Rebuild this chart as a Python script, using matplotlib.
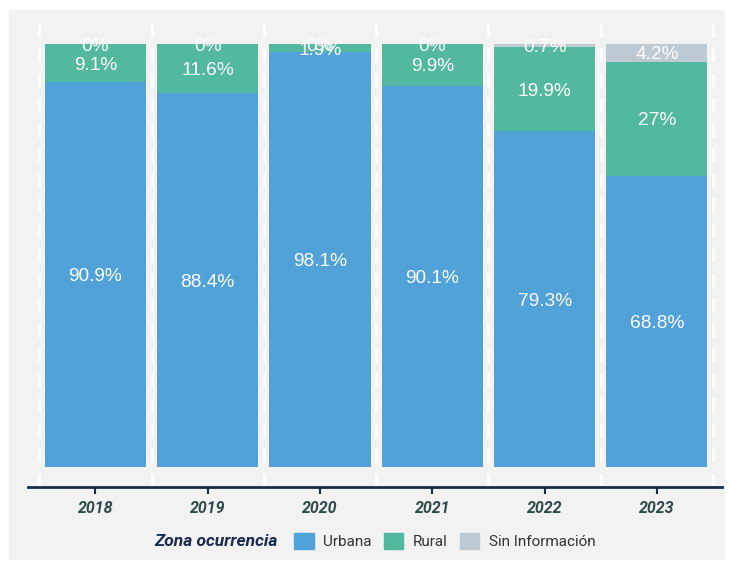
import numpy as np
import matplotlib.pyplot as plt
from matplotlib.patches import Rectangle, Patch

years = ['2018', '2019', '2020', '2021', '2022', '2023']
urbana = [90.9, 88.4, 98.1, 90.1, 79.3, 68.8]
rural = [9.1, 11.6, 1.9, 9.9, 19.9, 27]
sin_info = [0, 0, 0, 0, 0.7, 4.2]
labels_u = ['90.9%', '88.4%', '98.1%', '90.1%', '79.3%', '68.8%']
labels_r = ['9.1%', '11.6%', '1.9%', '9.9%', '19.9%', '27%']
labels_s = ['0%', '0%', '0%', '0%', '0.7%', '4.2%']

c_urb = '#52a2da'
c_rur = '#52b89e'
c_sin = '#bdcad4'
navy = '#1b2a4e'

W, H = 732, 570
fig = plt.figure(figsize=(W/100, H/100), dpi=100, facecolor='white')
fig.patches.append(Rectangle((9/W, 10/H), 716/W, 550/H, transform=fig.transFigure,
                             facecolor='#f2f2f2', edgecolor='none', zorder=-10))

ax = fig.add_axes([28/W, (H-487)/H, (722-28)/W, (487-24)/H])
ax.set_facecolor('none')

x = np.arange(len(years))
u = np.array(urbana)
r = np.array(rural)
s = np.array(sin_info)

ax.bar(x, u, width=0.9, color=c_urb, zorder=2)
ax.bar(x, r, width=0.9, bottom=u, color=c_rur, zorder=2)
ax.bar(x, s, width=0.9, bottom=u+r, color=c_sin, zorder=2)

#ラベル
fs = 13.8
dy = -0.5  # ラベルを少し下げる
for i in range(len(years)):
    ax.text(x[i], u[i]/2+dy, labels_u[i], ha='center', va='center', color='white',
            fontsize=fs, family='Liberation Sans', zorder=3)
    ax.text(x[i], u[i]+r[i]/2+dy, labels_r[i], ha='center', va='center', color='white',
            fontsize=fs, family='Liberation Sans', zorder=3)
    ax.text(x[i], u[i]+r[i]+s[i]/2+dy, labels_s[i], ha='center', va='center', color='white',
            fontsize=fs, family='Liberation Sans', zorder=3)

#区切り線
for b in np.arange(-0.5, len(years), 1.0):
    ax.axvline(b, color='white', lw=2, ls=(0, (5, 4)), zorder=1)

ax.set_xlim(-0.6, 5.58)
ax.set_ylim(-4.7, 104.7)
for sp in ['top', 'right', 'left']:
    ax.spines[sp].set_visible(False)
ax.spines['bottom'].set_color(navy)
ax.spines['bottom'].set_linewidth(2)
ax.set_yticks([])
ax.set_xticks(x)
ax.set_xticklabels(years, fontsize=11.5, fontweight='bold', fontstyle='italic',
                   color='#2f4a4a', family='Roboto')
ax.tick_params(axis='x', length=5, width=1.5, color=navy, pad=5)

#凡例
fig.text(278/W, 1-541/H, 'Zona ocurrencia', ha='right', va='center', fontsize=12.5,
         fontweight='bold', fontstyle='italic', color=navy, family='Roboto')
handles = [Patch(color=c_urb, label='Urbana'), Patch(color=c_rur, label='Rural'),
           Patch(color=c_sin, label='Sin Información')]
leg = fig.legend(handles=handles, loc='center left', bbox_to_anchor=(280/W, 1-541/H),
                 ncol=3, frameon=False, handlelength=1.3, handleheight=1.3,
                 handletextpad=0.6, columnspacing=0.8,
                 prop={'family': 'Roboto', 'size': 11})
for t in leg.get_texts():
    t.set_color('#333333')

fig.savefig('out.png', dpi=100)
